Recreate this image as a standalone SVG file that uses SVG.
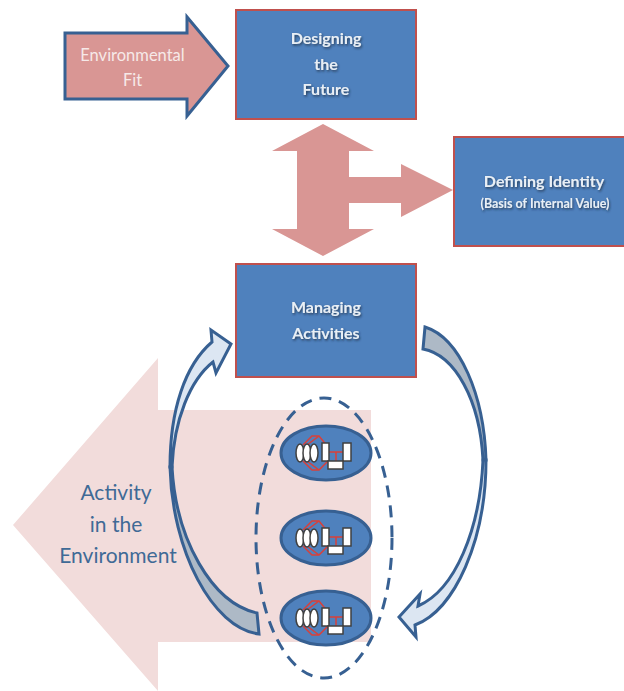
<svg xmlns="http://www.w3.org/2000/svg" xmlns:xlink="http://www.w3.org/1999/xlink" width="624" height="691" viewBox="0 0 624 691">
<style>
.box{fill:#4f81bd;stroke:#c0504d;stroke-width:2}
.pink{fill:#d99694}
.t{font-family:"Lato","Carlito","Liberation Sans",sans-serif;text-anchor:middle}
.w{fill:#e9eff5;font-weight:700;font-size:16px;filter:url(#sh)}
.curve{stroke:#376092;stroke-width:3;stroke-linejoin:miter}
.lt{fill:#dce6f2}
.dk{fill:#adb9c6}
.cell{fill:#4f81bd;stroke:#376092;stroke-width:3}
.wh{fill:#fff;stroke:#404040;stroke-width:1.5}
.red{fill:none;stroke:#d9403a;stroke-width:1.5}
</style>
<defs>
<filter id="sh" x="-20%" y="-30%" width="140%" height="170%"><feDropShadow dx="1" dy="1.5" stdDeviation="0.8" flood-color="#1d2b3a" flood-opacity="0.75"/></filter>
<g id="unit">
<path class="red" d="M303,445L312,436H319L328,447M307,445L319,436M303,461L312,470H319L328,461M307,461L319,470M329,452H343M336,452V461"/>
<ellipse class="wh" cx="300" cy="453" rx="4" ry="9"/>
<ellipse class="wh" cx="307" cy="453" rx="4" ry="9"/>
<ellipse class="wh" cx="314" cy="453" rx="4" ry="9"/>
<rect class="wh" x="322" y="443" width="7" height="18"/>
<rect class="wh" x="343" y="443" width="8" height="18"/>
<rect class="wh" x="328" y="461" width="15" height="8"/>
</g>
</defs>
<g id="activity-arrow">
<polygon fill="#f2dcdb" points="13,525 158,358 158,410 371,410 371,642 158,642 158,691"/>
<text class="t" x="116" y="500" font-size="21" fill="#3f6a96">Activity</text>
<text class="t" x="116" y="532" font-size="21" fill="#3f6a96">in the</text>
<text class="t" x="118" y="563" font-size="21" fill="#3f6a96">Environment</text>
</g>
<g id="environmental-fit">
<polygon class="pink" stroke="#376092" stroke-width="3" points="65,33 187,33 187,17 228,66 187,116 187,99 65,99"/>
<text class="t" x="132.500" y="61" font-size="16.500" fill="#f6e9e8">Environmental</text>
<text class="t" x="132.500" y="86" font-size="16.500" fill="#f6e9e8">Fit</text>
</g>
<g id="designing-future">
<rect class="box" x="236" y="10" width="180" height="109"/>
<text class="t w" x="326" y="44">Designing</text>
<text class="t w" x="326" y="70">the</text>
<text class="t w" x="326" y="95">Future</text>
</g>
<g id="t-arrow">
<polygon class="pink" points="323,124 374,151 349,151 349,177 401,177 401,164 453,190 401,217 401,203 349,203 349,229 374,229 323,256 272,229 297,229 297,151 272,151"/>
</g>
<g id="defining-identity">
<rect class="box" x="454" y="137" width="171" height="109"/>
<text class="t w" x="544" y="187">Defining Identity</text>
<text class="t w" x="545" y="208" style="font-size:12.500px">(Basis of Internal Value)</text>
</g>
<g id="managing-activities">
<rect class="box" x="236" y="264" width="180" height="113"/>
<text class="t w" x="326" y="313">Managing</text>
<text class="t w" x="326" y="339">Activities</text>
</g>
<g id="cells">
<ellipse fill="none" stroke="#376092" stroke-width="3" stroke-dasharray="12 8" cx="324" cy="538" rx="68" ry="140"/>
<g id="cell-1"><ellipse class="cell" cx="326" cy="453" rx="45" ry="27"/><use xlink:href="#unit" href="#unit"/></g>
<g id="cell-2"><ellipse class="cell" cx="326" cy="538" rx="45" ry="27"/><use xlink:href="#unit" href="#unit" y="85"/></g>
<g id="cell-3"><ellipse class="cell" cx="326" cy="618" rx="45" ry="27"/><use xlink:href="#unit" href="#unit" y="165"/></g>
</g>
<g id="connectors">
<path class="curve dk" d="M170,467C172,550 212,628 259,634L257,613C212,603 176,540 172,467Z"/>
<path class="curve lt" d="M170,467C170,410 185,365 212,342L211,330L231,344L216,373L213,362C190,380 174,420 172,467Z"/>
<path class="curve dk" d="M486,460C484,395 460,338 425,327L423,349C455,355 480,400 483,460Z"/>
<path class="curve lt" d="M486,460C486,540 455,610 415,625L416,637L399,617L420,594L418,606C455,590 480,530 483,460Z"/>
</g>
</svg>
